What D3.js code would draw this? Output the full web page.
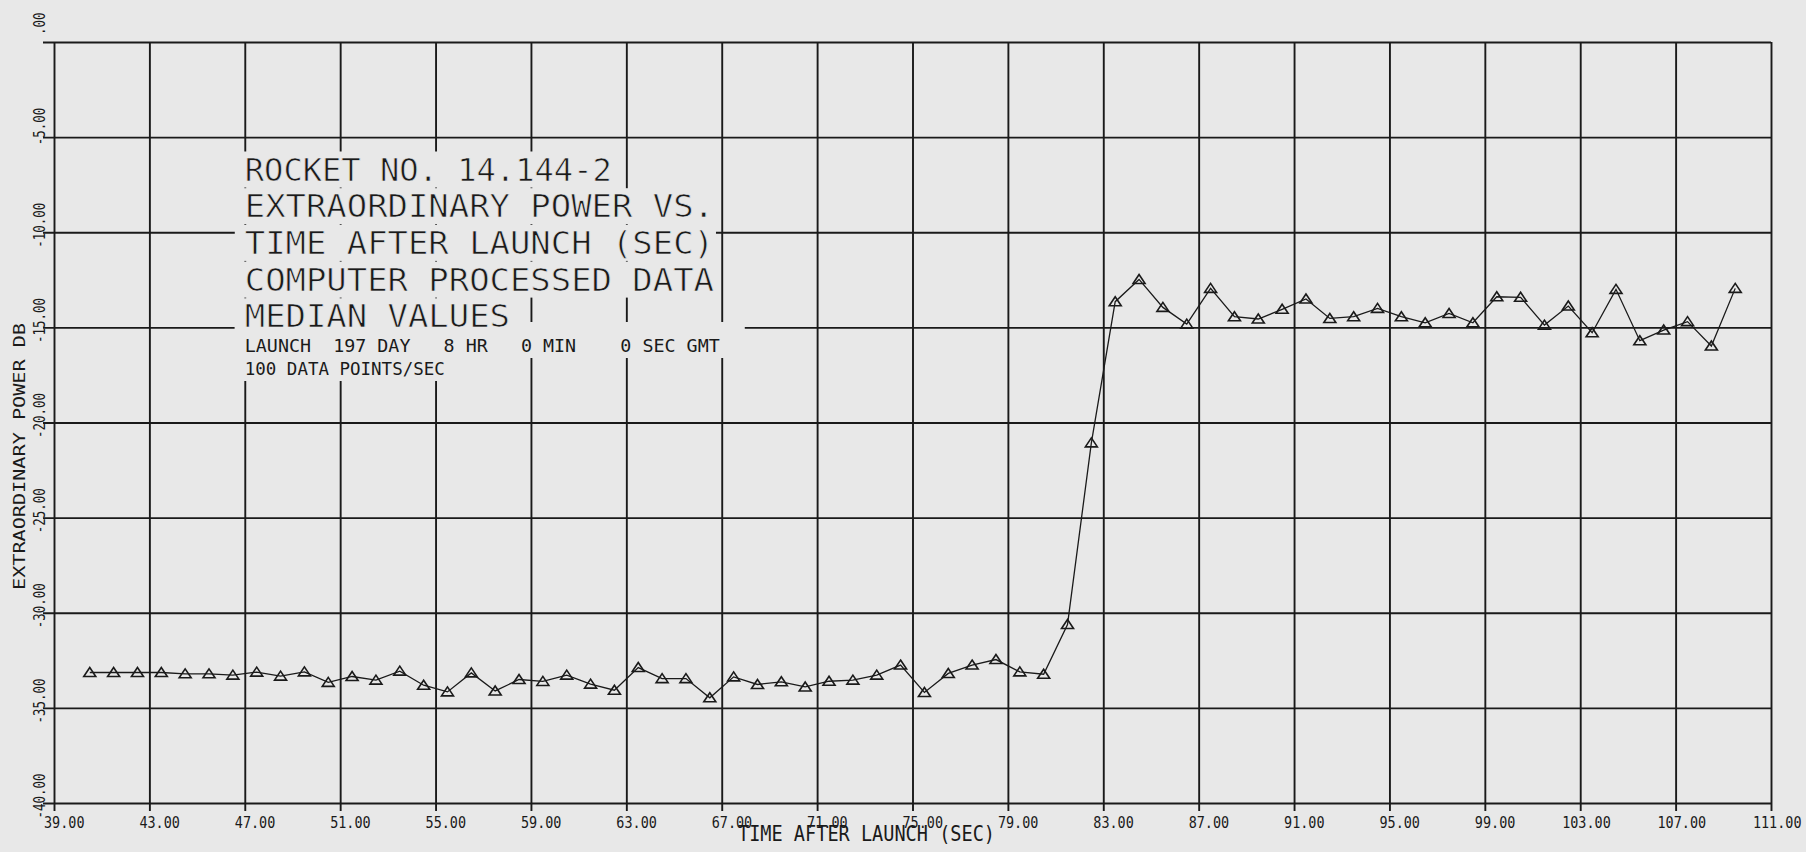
<!DOCTYPE html>
<html>
<head>
<meta charset="utf-8">
<script src="https://cdn.jsdelivr.net/npm/d3@7"></script>
<style>
  body { margin: 0; background: #e8e8e8; }
  svg { display: block; }
  text { font-family: 'DejaVu Sans Mono', monospace; fill: #1a1a1a; }
</style>
</head>
<body>
<div id="chart"></div>
<script>
// median samples, one per second
const times = [
  40.5, 41.5, 42.5, 43.5, 44.5, 45.5, 46.5, 47.5, 48.5, 49.5,
  50.5, 51.5, 52.5, 53.5, 54.5, 55.5, 56.5, 57.5, 58.5, 59.5,
  60.5, 61.5, 62.5, 63.5, 64.5, 65.5, 66.5, 67.5, 68.5, 69.5,
  70.5, 71.5, 72.5, 73.5, 74.5, 75.5, 76.5, 77.5, 78.5, 79.5,
  80.5, 81.5, 82.5, 83.5, 84.5, 85.5, 86.5, 87.5, 88.5, 89.5,
  90.5, 91.5, 92.5, 93.5, 94.5, 95.5, 96.5, 97.5, 98.5, 99.5,
  100.5, 101.5, 102.5, 103.5, 104.5, 105.5, 106.5, 107.5, 108.5, 109.5
]
const power = [
  -33.14, -33.14, -33.14, -33.14, -33.21, -33.21, -33.28, -33.12, -33.33, -33.11,
  -33.66, -33.35, -33.54, -33.07, -33.81, -34.16, -33.16, -34.11, -33.51, -33.61,
  -33.28, -33.75, -34.07, -32.88, -33.46, -33.46, -34.47, -33.37, -33.77, -33.63,
  -33.90, -33.60, -33.54, -33.28, -32.75, -34.19, -33.19, -32.75, -32.46, -33.11,
  -33.23, -30.62, -21.07, -13.65, -12.48, -13.95, -14.83, -12.95, -14.44, -14.56,
  -14.05, -13.51, -14.53, -14.44, -14.00, -14.44, -14.76, -14.27, -14.76, -13.39,
  -13.42, -14.88, -13.88, -15.28, -13.00, -15.70, -15.14, -14.70, -15.98, -12.95
]

const xTicks = [39, 43, 47, 51, 55, 59, 63, 67, 71, 75, 79, 83, 87, 91, 95, 99, 103, 107, 111]
const xTickLabels = ['39.00', '43.00', '47.00', '51.00', '55.00', '59.00', '63.00', '67.00', '71.00',
  '75.00', '79.00', '83.00', '87.00', '91.00', '95.00', '99.00', '103.00', '107.00', '111.00']
const yTicks = [0, -5, -10, -15, -20, -25, -30, -35, -40]
const yTickLabels = ['.00', '-5.00', '-10.00', '-15.00', '-20.00', '-25.00', '-30.00', '-35.00', '-40.00']

const titleLines = ['ROCKET NO. 14.144-2', 'EXTRAORDINARY POWER VS.', 'TIME AFTER LAUNCH (SEC)',
  'COMPUTER PROCESSED DATA', 'MEDIAN VALUES']
const infoLines = ['LAUNCH  197 DAY   8 HR   0 MIN    0 SEC GMT', '100 DATA POINTS/SEC']
const xTitle = 'TIME AFTER LAUNCH (SEC)'
const yTitle = 'EXTRAORDINARY POWER DB'

const width = 1806, height = 852
const margin = { top: 42, right: 35, bottom: 49, left: 54 }
const paper = '#e8e8e8', ink = '#1a1a1a'

const svg = d3.select('#chart').append('svg:svg')
    .attr('width', width)
    .attr('height', height)

svg.append('svg:rect')
    .attr('width', width)
    .attr('height', height)
    .attr('fill', paper)

const x = d3.scaleLinear().domain([39, 111]).range([margin.left, width - margin.right])
const y = d3.scaleLinear().domain([-40, 0]).range([height - margin.bottom, margin.top])
const plotH = y(-40) - y(0)
const plotW = x(111) - x(39)

// vertical grid + x labels
const xAxis = svg.append('svg:g')
    .attr('transform', 'translate(0,' + y(-40) + ')')
    .call(d3.axisBottom(x).tickValues(xTicks).tickSize(0).tickFormat((d, i) => xTickLabels[i]))
    .attr('font-family', null)
    .attr('font-size', null)
xAxis.select('.domain').remove()
xAxis.selectAll('.tick line')
    .attr('y1', 8)
    .attr('y2', -plotH)
    .attr('stroke', ink)
    .attr('stroke-width', 1.9)
xAxis.selectAll('.tick text')
    .attr('x', 30)
    .attr('y', 25)
    .attr('dy', 0)
    .attr('text-anchor', 'end')
    .attr('font-size', 15)
    .attr('fill', ink)
    .attr('textLength', (d, i) => xTickLabels[i].length * 8.1)
    .attr('lengthAdjust', 'spacingAndGlyphs')

// horizontal grid + rotated y labels
const yAxis = svg.append('svg:g')
    .attr('transform', 'translate(' + x(39) + ',0)')
    .call(d3.axisLeft(y).tickValues(yTicks).tickSize(0).tickFormat((d, i) => yTickLabels[i]))
    .attr('font-family', null)
    .attr('font-size', null)
yAxis.select('.domain').remove()
yAxis.selectAll('.tick line')
    .attr('x1', -11)
    .attr('x2', plotW)
    .attr('stroke', ink)
    .attr('stroke-width', 1.9)
yAxis.selectAll('.tick text')
    .attr('x', 0)
    .attr('dy', 0)
    .attr('transform', 'translate(-9,-30) rotate(-90)')
    .attr('text-anchor', 'end')
    .attr('font-size', 15)
    .attr('fill', ink)
    .attr('textLength', (d, i) => yTickLabels[i].length * 7.5)
    .attr('lengthAdjust', 'spacingAndGlyphs')

// axis titles
svg.append('svg:text')
    .attr('x', 738)
    .attr('y', 841)
    .attr('font-size', 21)
    .attr('textLength', 257)
    .attr('lengthAdjust', 'spacingAndGlyphs')
    .text(xTitle)

svg.append('svg:text')
    .attr('transform', 'translate(25,590) rotate(-90)')
    .attr('font-size', 16.5)
    .attr('textLength', 267)
    .attr('lengthAdjust', 'spacingAndGlyphs')
    .text(yTitle)

// annotation block, grid erased behind each line
const knockouts = svg.append('svg:g')
const notes = svg.append('svg:g')
const textLeft = x(47)

titleLines.forEach((line, i) => {
  const t = notes.append('svg:text')
      .attr('x', textLeft)
      .attr('y', 180.5 + i * 36.7)
      .attr('font-size', 31.5)
      .attr('textLength', i === 0 ? 367 : line.length * 20.4)
      .attr('lengthAdjust', 'spacingAndGlyphs')
      .attr('stroke', paper)
      .attr('stroke-width', 0.7)
      .text(line)
  const b = t.node().getBBox()
  knockouts.append('svg:rect')
      .attr('x', b.x - 10)
      .attr('y', b.y)
      .attr('width', b.width + 12)
      .attr('height', b.height)
      .attr('fill', paper)
})

infoLines.forEach((line, i) => {
  const t = notes.append('svg:text')
      .attr('x', textLeft)
      .attr('y', 352 + i * 23)
      .attr('font-size', 17)
      .attr('textLength', i === 0 ? 475 : 200)
      .attr('lengthAdjust', 'spacingAndGlyphs')
      .style('white-space', 'pre')
      .text(line)
  const b = t.node().getBBox()
  knockouts.append('svg:rect')
      .attr('x', b.x - 10)
      .attr('y', b.y - 14)
      .attr('width', b.width + 35)
      .attr('height', b.height + 16)
      .attr('fill', paper)
})

// data
const line = d3.line()
    .x((d, i) => x(times[i]))
    .y(d => y(d))

svg.append('svg:path')
    .datum(power)
    .attr('d', line)
    .attr('fill', 'none')
    .attr('stroke', ink)
    .attr('stroke-width', 1.3)

svg.append('svg:g')
  .selectAll('path')
  .data(power)
  .enter().append('svg:path')
    .attr('transform', (d, i) => 'translate(' + x(times[i]) + ',' + y(d) + ')')
    .attr('d', 'M0,-5L6,4L-6,4Z')
    .attr('fill', 'none')
    .attr('stroke', ink)
    .attr('stroke-width', 1.6)
</script>
</body>
</html>
